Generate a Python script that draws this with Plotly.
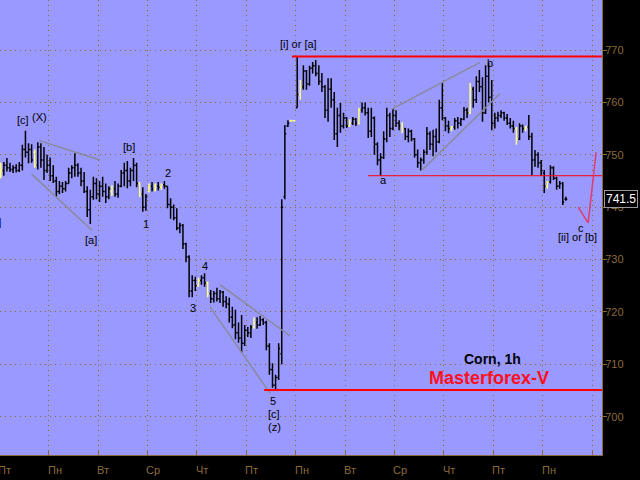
import plotly.graph_objects as go

# ---------------- data ----------------
BARS_PER_DAY = 16
day_labels = ["Пт", "Пн", "Вт", "Ср", "Чт", "Пт", "Пн", "Вт", "Ср", "Чт", "Пт", "Пн", ""]

opens = [
    746, 747, 748, 747.5, 747.2, 747.5, 747, 748, 751, 750.5, 751, 750.5, 748, 751.5, 749, 747,
    748, 746, 745, 743, 744, 743.5, 744.5, 746.5, 747.5, 748, 746.5, 745, 743, 739.5, 742, 744.5,
    742.5, 744, 743, 742, 743, 743.5, 742.5, 744, 746.5, 747, 745, 747, 748, 744.5, 742.5, 740,
    743, 744, 743.5, 744, 743.8, 744.3, 744, 740.5, 740, 738, 736, 736.5, 733, 730.5, 724, 726,
    725, 726, 726.5, 725.5, 723.5, 722.5, 723.5, 722.5, 723.8, 722, 721.5, 719, 717.5, 716, 715, 714,
    716.5, 716, 717, 718, 717.5, 718.5, 718, 713.5, 709, 706, 707.5, 712, 742, 755.5, 756.5, 756.5,
    759, 761.5, 763, 766, 763.5, 766.5, 767, 765.5, 764, 763, 758.5, 762.5, 760.5, 754, 757.5, 755.5,
    757, 755.5, 756, 756.8, 756, 758.5, 759, 758, 754.5, 757, 752, 749, 749.5, 753, 757.5, 755,
    757.5, 756, 755.5, 755, 753.5, 754.5, 753, 750, 748.5, 749, 750.5, 754, 752, 753.5, 752.5, 759,
    757, 755.5, 755, 755.3, 756.5, 756, 756.8, 758.5, 758, 762.5, 760.5, 764, 763, 758, 765, 761,
    756, 757, 757.5, 758, 757, 756, 755.5, 755, 753, 755.5, 755, 755.3, 753.5, 749, 750, 748.5,
    746.5, 744, 744.8, 747.5, 745.5, 744, 744.5, 741.5,
]
highs = [
    748.5, 748.6, 749.4, 748.5, 748, 748.2, 748.6, 751.9, 754.6, 752.2, 752, 751, 752.4, 752.2, 751.5, 750,
    749.5, 748, 745.8, 745, 744.8, 745, 747.5, 748, 750.3, 748.4, 747.5, 746.7, 744, 743.3, 745.8, 745.5,
    745, 745.8, 744.5, 744, 744.2, 745, 744.5, 747.1, 748.5, 748.8, 747.5, 749.4, 748.5, 744.8, 743.8, 742.5,
    744.5, 744.8, 744.5, 744.8, 744.5, 745, 744, 741.7, 740.5, 739.8, 737, 736.8, 733.2, 730.8, 727, 726.7,
    726.5, 727, 727.4, 725.8, 724.2, 724, 724.6, 724.2, 724, 723, 722.7, 721, 720.4, 718, 719.4, 717.5,
    717.1, 717.5, 719, 719, 719.2, 718.8, 718.3, 714, 710.2, 708, 714, 741.5, 755.7, 756.6, 756.7, 756.6,
    768.7, 764.3, 767.1, 766.2, 767, 767.7, 768.1, 767.1, 765.6, 763.3, 764.6, 764.6, 762, 759, 759.9, 758,
    757.2, 756.8, 757.2, 757, 759, 760, 760, 759, 759, 757.3, 752.4, 750.3, 754.5, 759, 758, 758.9,
    758.5, 756.6, 756.2, 755.1, 755, 754.8, 753.2, 751, 749.5, 751, 755.3, 754.5, 754.8, 755, 760.5, 763.7,
    757.2, 756.5, 755.5, 757, 757.2, 757, 759.1, 759, 763.7, 763, 765, 766.2, 764.8, 767.1, 767.5, 764.3,
    758, 758.2, 758.5, 758.2, 757.8, 757, 756.5, 755.3, 756, 755.8, 755.5, 757.6, 754.2, 750.9, 750.5, 749,
    747.1, 745, 748, 747.8, 745.8, 745, 744.8, 742,
]
lows = [
    745.5, 746, 746.8, 746.7, 746.5, 746.6, 746.7, 747, 749.5, 748.4, 748.5, 747.5, 747.2, 747.5, 745.2, 746.5,
    745, 744.6, 742, 742.5, 742.7, 743, 744.5, 745.5, 745.8, 745.8, 744, 742.7, 738.1, 736.8, 741.4, 741.5,
    741, 742, 740.8, 741.5, 742.2, 742, 741.8, 743.8, 744, 743.6, 744, 745, 743.8, 741.9, 739.1, 739.3,
    742.8, 743, 743, 743.2, 743.3, 743.5, 739.8, 737.8, 737.5, 735.6, 735, 732, 729.5, 722.8, 722.8, 724,
    724.8, 725.2, 724.8, 722.8, 721.7, 721.8, 722, 721.7, 721, 720.7, 718, 716.9, 714.8, 714.1, 712.2, 713.5,
    715.2, 715, 716.8, 716.8, 717.3, 717.5, 712.7, 708, 705.5, 705.3, 707, 710, 741.5, 755.3, 756.3, 756.4,
    759, 760.5, 762.4, 762.4, 763.2, 765.5, 765, 763.3, 762, 757, 756.3, 759, 752.8, 751.5, 754.2, 755,
    755.1, 755.3, 755.7, 755.5, 755.8, 758, 757.5, 753.2, 753.4, 750, 748, 746, 749.2, 752.4, 753.4, 754.7,
    755.3, 754.7, 754.1, 752.8, 752.4, 752.6, 749.5, 747.5, 747, 748.3, 750, 750.9, 749.7, 750.5, 752.2, 756.6,
    754.5, 754.1, 754.5, 754.8, 755, 755.5, 756.6, 757, 757.8, 759, 759.9, 762, 756.3, 757.8, 760, 754.7,
    755, 756.3, 757, 756.5, 755.7, 755, 754.2, 751.9, 752.8, 754.2, 754.5, 752.8, 746.1, 747.7, 747.5, 746,
    742.7, 743.5, 744.5, 745.2, 743.3, 743.5, 740.4, 741.2,
]
closes = [
    747, 748, 747.5, 747.2, 747.5, 747, 748, 751, 750.5, 751, 749, 748, 751.5, 749, 747, 748,
    746, 745, 743, 744, 743.5, 744.5, 746.5, 747.5, 748, 746.5, 745, 743, 739.5, 742, 744.5, 742.5,
    744, 743, 742, 743.5, 743.5, 742.5, 744, 746.5, 747, 745, 747, 748, 744.5, 742.5, 740, 742,
    744, 743.5, 744, 743.8, 744.3, 744, 740.5, 740, 738, 736, 736.5, 733, 730.5, 724, 726, 725,
    726, 726.5, 725.5, 723.5, 722.5, 723.5, 722.5, 723.8, 722, 721.5, 719, 717.5, 716, 715, 714, 716.5,
    716, 717, 718, 717.5, 718.5, 718, 713.5, 709, 706, 707.5, 713, 740, 754, 756, 756.5, 756.5,
    761.5, 763, 766, 763.5, 766.5, 767, 765.5, 764, 763, 758.5, 762.5, 760.5, 754, 757.5, 755.5, 757,
    755.5, 756, 756.8, 756, 758.5, 759, 758, 754.5, 757, 752, 749, 749.5, 753, 757.5, 755, 757.5,
    756, 755.5, 755, 753.5, 754.5, 753, 750, 748.5, 749, 750.5, 754, 752, 753.5, 752.5, 759, 757,
    755.5, 755, 755.3, 756.5, 756, 756.8, 758.5, 758, 762.5, 760.5, 764, 763, 758, 765, 761, 756,
    757, 757.5, 758, 757, 756, 755.5, 755, 753, 755.5, 755, 755.3, 753.5, 749, 750, 748.5, 747,
    744, 744.8, 747.5, 745.5, 744, 744.5, 741, 741.5,
]
yellow_bars = [0, 11, 36, 45, 48, 50, 52, 64, 67, 82, 94, 95, 97, 113, 116, 130, 146, 152, 167, 170, 177]

# horizontal levels: (start bar, price, width)
levels = [(94.3, 768.75, 2), (85.3, 705.1, 2), (118.9, 746.0, 1)]
# grey trend lines: (x0, y0, x1, y1)
trend_lines = [
    (12.5, 752.7, 32.1, 749.0),
    (10.0, 746.3, 29.5, 735.6),
    (71.0, 725.2, 93.7, 715.4),
    (67.8, 720.9, 87.2, 704.5),
    (126.6, 758.7, 155.2, 767.65),
    (136.3, 747.0, 161.7, 761.7),
]
proj_x = [187.0, 190.2, 192.8]
proj_y = [740.0, 737.0, 750.5]

wave_labels = [
    ("[a]", 0.57, 737.1, "right"),
    ("[c]", 7.2, 756.7, "center"),
    ("(X)", 12.4, 757.2, "center"),
    ("[a]", 29.2, 733.7, "center"),
    ("[b]", 41.5, 751.5, "center"),
    ("1", 46.9, 736.8, "center"),
    ("2", 54.3, 746.5, "center"),
    ("3", 62.1, 720.7, "center"),
    ("4", 66.3, 728.8, "center"),
    ("5", 88.2, 703.0, "center"),
    ("[c]", 88.5, 700.5, "center"),
    ("(z)", 88.5, 698.1, "center"),
    ("[i] or [a]", 96.4, 771.1, "center"),
    ("a", 123.8, 745.2, "center"),
    ("b", 158.5, 767.5, "center"),
    ("c", 188.0, 736.0, "center"),
    ("[ii] or [b]", 186.8, 734.3, "center"),
]
last_price = 741.5
y_ticks = [700, 710, 720, 730, 740, 750, 760, 770]

# ---------------- styling ----------------
BG = "#9999ff"
BROWN = "#8b6a3a"
FONT = "Liberation Sans, Arial, sans-serif"
X_RANGE = [-0.24, 194.7]

idx = list(range(len(opens)))
black_idx = [i for i in idx if i not in yellow_bars]

def sub(lst, ids):
    return [lst[i] for i in ids]

fig = go.Figure()
for ids, col in ((black_idx, "black"), (yellow_bars, "#ffff80")):
    fig.add_trace(go.Ohlc(
        x=ids, open=sub(opens, ids), high=sub(highs, ids), low=sub(lows, ids), close=sub(closes, ids),
        increasing=dict(line=dict(color=col, width=1.5)),
        decreasing=dict(line=dict(color=col, width=1.5)),
        tickwidth=0.45, showlegend=False, hoverinfo="skip",
    ))

for x0, y0, x1, y1 in trend_lines:
    fig.add_trace(go.Scatter(x=[x0, x1], y=[y0, y1], mode="lines",
                             line=dict(color="#8a8a9c", width=1.5),
                             showlegend=False, hoverinfo="skip"))

for start, price, w in levels:
    fig.add_trace(go.Scatter(x=[start, 400], y=[price, price], mode="lines",
                             line=dict(color="#ff0000", width=w),
                             showlegend=False, hoverinfo="skip"))

fig.add_trace(go.Scatter(x=proj_x, y=proj_y, mode="lines",
                         line=dict(color="#e03c6e", width=1.5),
                         showlegend=False, hoverinfo="skip"))

tick_pos = [-0.5 + BARS_PER_DAY * k for k in range(len(day_labels))]

annotations = []
for txt, x, y, anchor in wave_labels:
    annotations.append(dict(text=txt, x=x, y=y, xref="x", yref="y", showarrow=False,
                            xanchor=anchor, yanchor="middle",
                            font=dict(family=FONT, size=11, color="black")))
for pos, lab in zip(tick_pos, day_labels):
    if lab:
        annotations.append(dict(text=lab, x=(pos - X_RANGE[0]) / (X_RANGE[1] - X_RANGE[0]),
                                y=-0.033, xref="paper", yref="paper",
                                showarrow=False, xanchor="left", yanchor="middle", xshift=-3,
                                font=dict(family=FONT, size=11, color=BROWN)))
annotations.append(dict(text="<b>Corn, 1h</b>", x=159.1, y=711.0, xref="x", yref="y",
                        showarrow=False, font=dict(family=FONT, size=14, color="black")))
annotations.append(dict(text="<b>Masterforex-V</b>", x=158.1, y=707.4, xref="x", yref="y",
                        showarrow=False, font=dict(family=FONT, size=18, color="#ff1020")))
annotations.append(dict(text=str(last_price), x=1.004, y=last_price, xref="paper", yref="y",
                        showarrow=False, xanchor="left", yanchor="middle",
                        bgcolor="black", bordercolor="#9a9a9a", borderwidth=1, borderpad=1,
                        font=dict(family=FONT, size=12, color="white")))

fig.update_layout(
    width=640, height=480,
    margin=dict(l=0, r=38, t=0, b=25),
    paper_bgcolor="black", plot_bgcolor=BG,
    showlegend=False,
    annotations=annotations,
    xaxis=dict(
        range=X_RANGE, rangeslider=dict(visible=False),
        tickvals=tick_pos, showticklabels=False,
        ticks="inside", ticklen=4, tickcolor=BROWN, tickwidth=1,
        showline=True, linecolor=BROWN, linewidth=1,
        showgrid=True, gridcolor=BROWN, gridwidth=1, griddash="1px,4px",
        zeroline=False, fixedrange=True,
    ),
    yaxis=dict(
        range=[692.68, 779.55], side="right",
        tickvals=y_ticks, ticks="outside", ticklen=4, tickcolor=BROWN,
        tickfont=dict(family=FONT, size=11, color=BROWN), ticklabelstandoff=-4,
        showline=True, linecolor=BROWN, linewidth=1,
        showgrid=True, gridcolor=BROWN, gridwidth=1, griddash="1px,4px",
        zeroline=False, fixedrange=True,
    ),
)

fig.write_html(
    "out.html",
    config={"displayModeBar": False, "staticPlot": True},
    post_script="document.body.style.margin='0';document.body.style.background='black';document.body.style.overflow='hidden';",
)
